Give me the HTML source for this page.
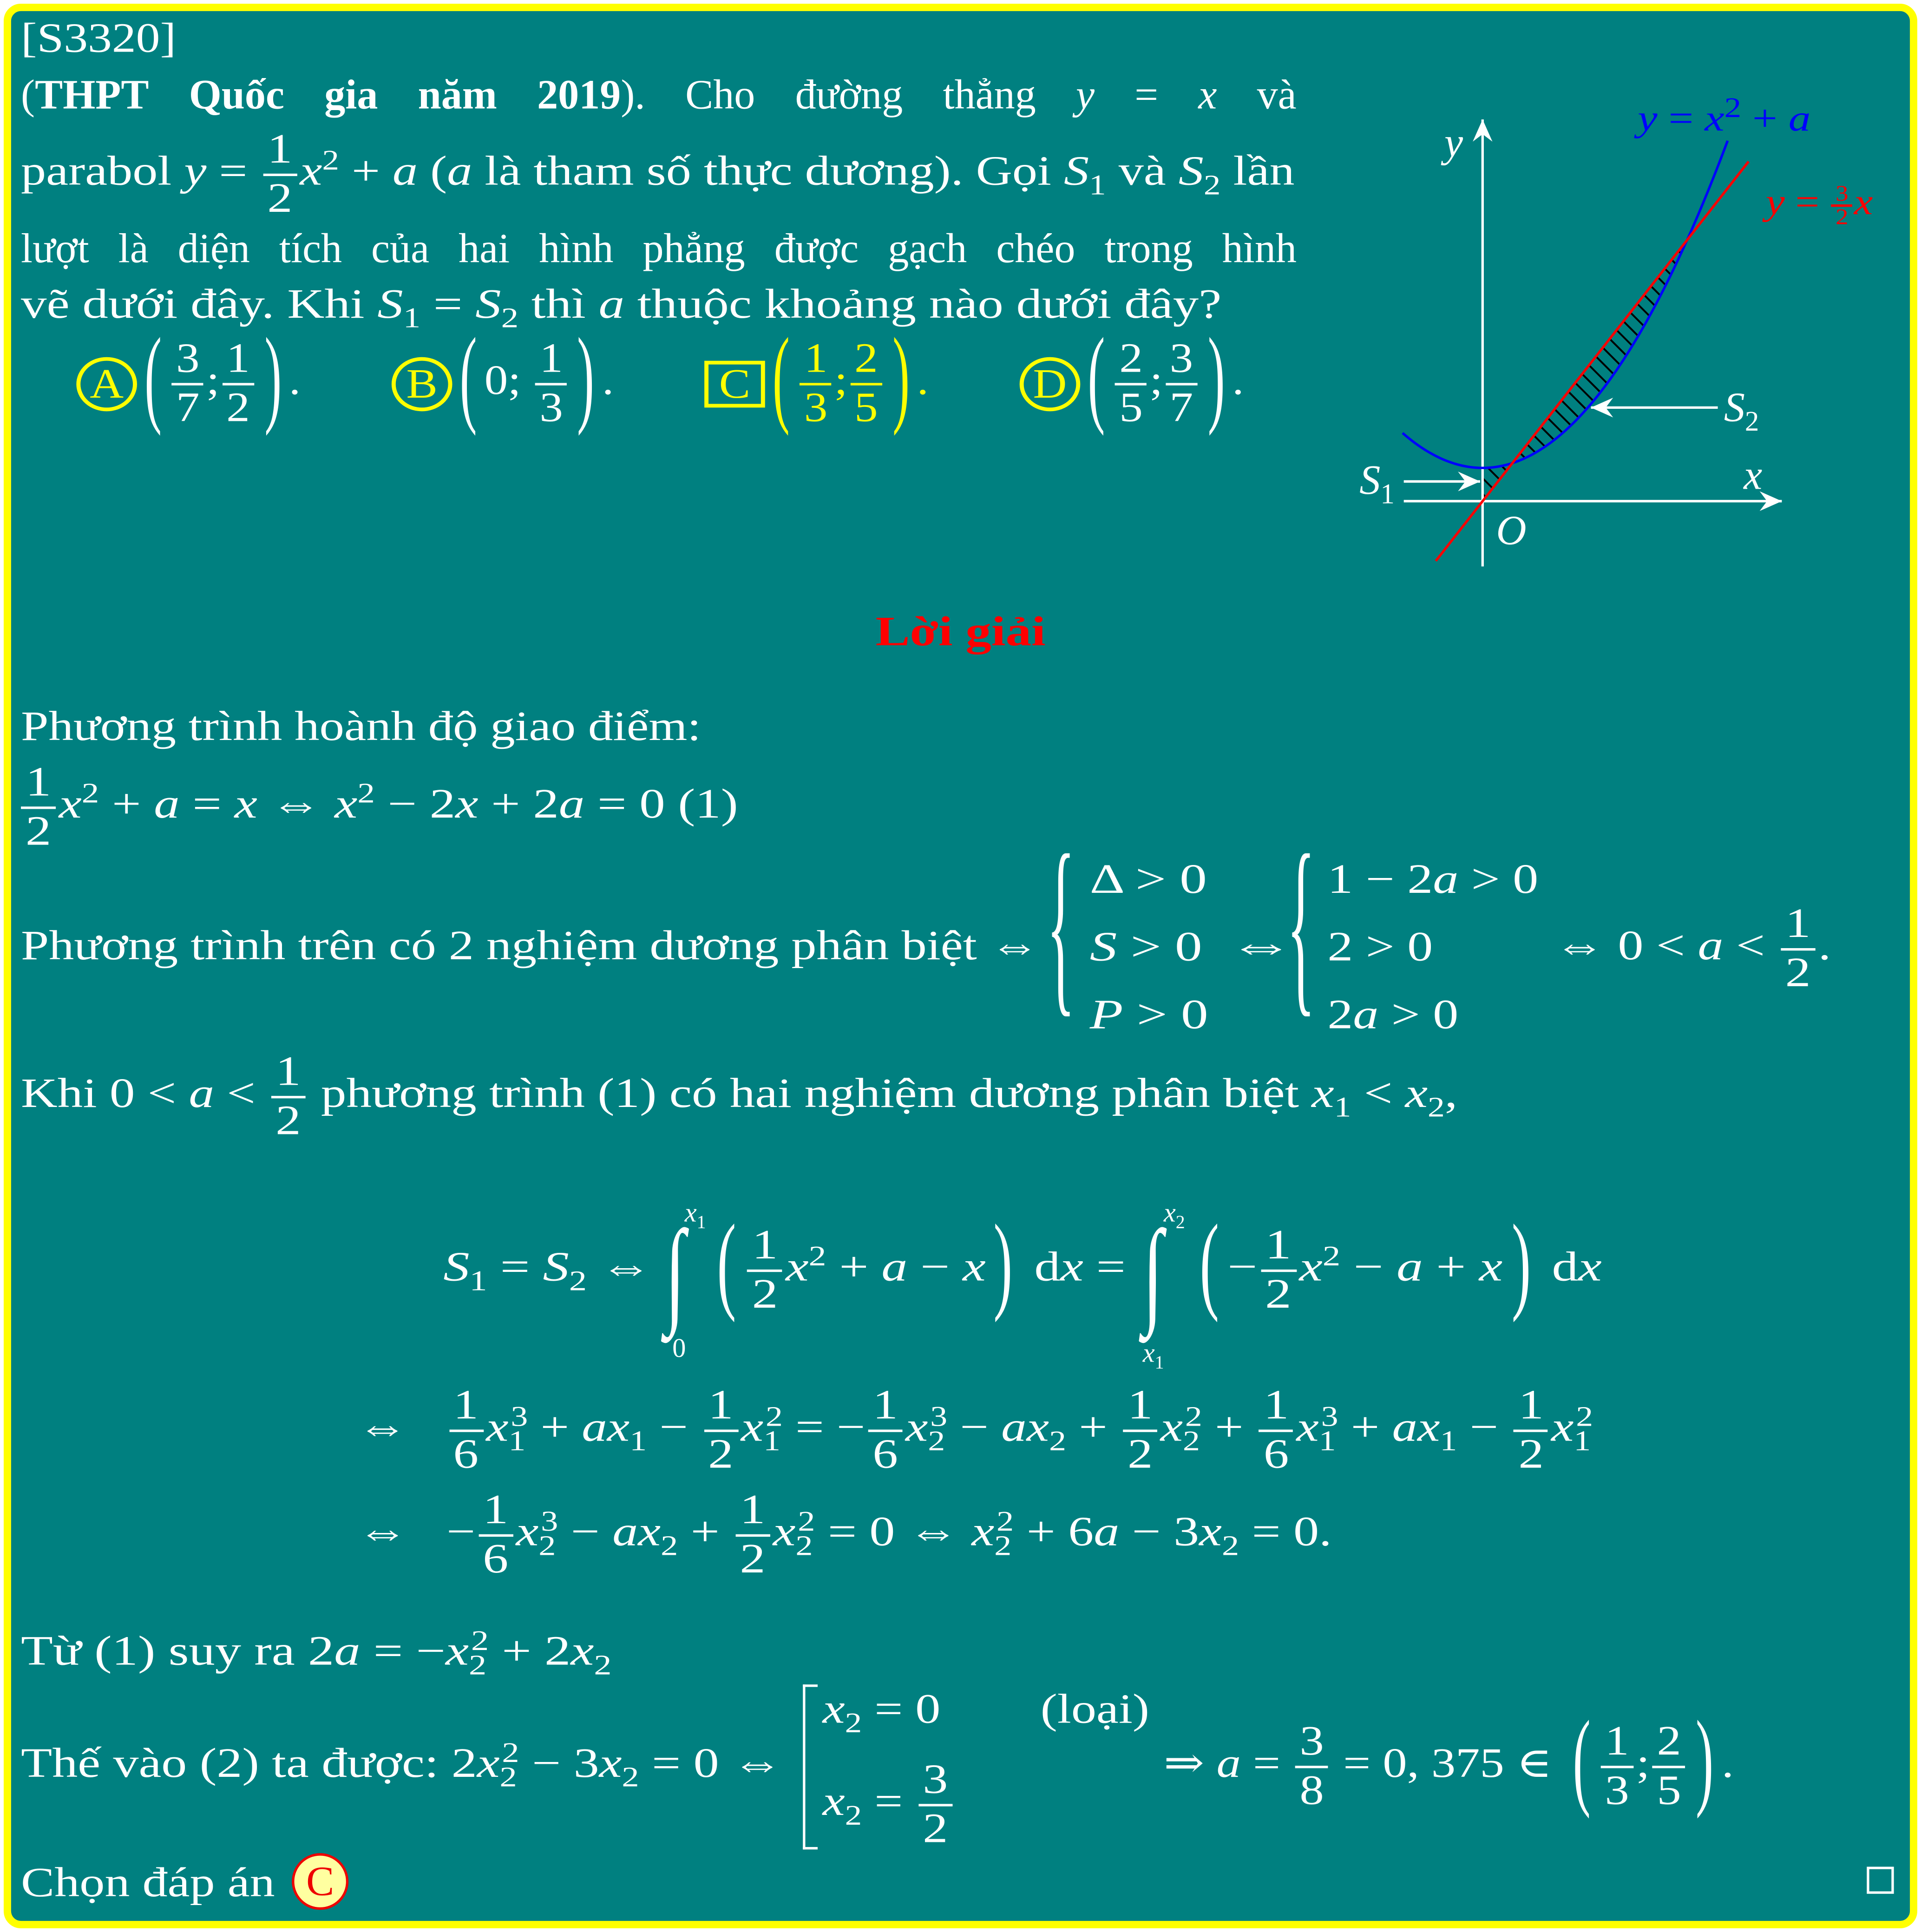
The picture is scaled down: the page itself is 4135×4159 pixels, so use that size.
<!DOCTYPE html>
<html><head><meta charset="utf-8">
<style>
html,body{margin:0;padding:0;background:#fff;}
#root{width:4135px;height:4159px;overflow:hidden;position:relative;background:#fff;}
#s{position:absolute;left:0;top:0;width:1560px;height:1569px;transform:scale(2.6506,2.6507);transform-origin:0 0;}
#card{position:absolute;left:3px;top:3px;width:1542px;height:1551px;background:#008080;border:6px solid #ffff00;border-radius:14px;}
.t{position:absolute;color:#fff;font-family:"Liberation Serif","DejaVu Serif",serif;font-size:34px;line-height:34px;white-space:nowrap;transform-origin:0 0;}
.sx{transform:scaleX(1.21);}
i{font-style:italic;}
sub,sup{font-size:23px;line-height:0;}
.fr{display:inline-flex;flex-direction:column;vertical-align:middle;text-align:center;line-height:38px;margin:-22px 2px;}
.fr>span:first-child{border-bottom:2px solid currentColor;padding:0 3px;}
.bp{display:inline-block;font-size:34px;transform:scale(1.1,2.6);vertical-align:middle;margin:0 6px;position:relative;top:-3px;}
.cir{display:inline-block;width:44px;height:44px;border:3px solid #ff0;border-radius:50%;color:#ff0;text-align:center;line-height:40px;box-sizing:border-box;font-size:34px;vertical-align:middle;margin:-6px 0;}
.y{color:#ff0;}
</style></head><body>
<div id="root">
<div id="s">
<div id="card"></div>

<div class="t sx" style="left:17px;top:15px;transform:scaleX(1.15)">[S3320]</div>
<div class="t" style="left:17px;top:61px;width:1036px;display:flex;justify-content:space-between"><span>(<b>THPT</b></span><span><b>Quốc</b></span><span><b>gia</b></span><span><b>năm</b></span><span><b>2019</b>).</span><span>Cho</span><span>đường</span><span>thẳng</span><span><i>y</i></span><span>=</span><span><i>x</i></span><span>và</span></div>
<div class="t" style="left:17px;top:123px;transform:scaleX(1.2)">parabol <i>y</i> = <span class="fr"><span>1</span><span>2</span></span><i>x</i><sup>2</sup> + <i>a</i> (<i>a</i> là tham số thực dương). Gọi <i>S</i><sub>1</sub> và <i>S</i><sub>2</sub> lần</div>
<div class="t" style="left:17px;top:186px;width:1036px;display:flex;justify-content:space-between"><span>lượt</span><span>là</span><span>diện</span><span>tích</span><span>của</span><span>hai</span><span>hình</span><span>phẳng</span><span>được</span><span>gạch</span><span>chéo</span><span>trong</span><span>hình</span></div>
<div class="t" style="left:17px;top:231px;transform:scaleX(1.23)">vẽ dưới đây. Khi <i>S</i><sub>1</sub> = <i>S</i><sub>2</sub> thì <i>a</i> thuộc khoảng nào dưới đây?</div>

<div class="t" style="left:62px;top:293px;transform:scaleX(1.12)"><span class="cir">A</span><span class="bp">(</span><span class="fr"><span>3</span><span>7</span></span>;<span class="fr"><span>1</span><span>2</span></span><span class="bp">)</span>.</div>
<div class="t" style="left:318px;top:293px;transform:scaleX(1.12)"><span class="cir">B</span><span class="bp">(</span>0; <span class="fr"><span>1</span><span>3</span></span><span class="bp">)</span>.</div>
<div class="t y" style="left:572px;top:293px;transform:scaleX(1.12)"><span style="display:inline-block;width:44px;height:38px;border:3px solid #ff0;text-align:center;line-height:34px;box-sizing:border-box;vertical-align:middle;margin:-4px 0">C</span><span class="bp">(</span><span class="fr"><span>1</span><span>3</span></span>;<span class="fr"><span>2</span><span>5</span></span><span class="bp">)</span>.</div>
<div class="t" style="left:828px;top:293px;transform:scaleX(1.12)"><span class="cir">D</span><span class="bp">(</span><span class="fr"><span>2</span><span>5</span></span>;<span class="fr"><span>3</span><span>7</span></span><span class="bp">)</span>.</div>

<svg style="position:absolute;left:0;top:0" width="1560" height="1569">
<defs><pattern id="h" width="9" height="9" patternUnits="userSpaceOnUse" patternTransform="rotate(-45)"><line x1="0" y1="0" x2="0" y2="9" stroke="#000" stroke-width="3"/></pattern>
<marker id="ar" markerWidth="10" markerHeight="10" refX="9" refY="5" orient="auto"><path d="M0,1 L9,5 L0,9 L3,5z" fill="#fff"/></marker></defs>
<g id="plot"></g>
</svg>
<div class="t" style="left:1173px;top:100px;font-style:italic">y</div>
<div class="t" style="left:1416px;top:370px;font-style:italic">x</div>
<div class="t" style="left:1215px;top:415px;font-style:italic">O</div>
<div class="t" style="left:1104px;top:374px"><i>S</i><sub>1</sub></div>
<div class="t" style="left:1400px;top:315px"><i>S</i><sub>2</sub></div>
<div class="t" style="left:1330px;top:80px;color:#0000ff;font-size:30px;transform:scaleX(1.2)"><i>y</i> = <i>x</i><sup>2</sup> + <i>a</i></div>
<div class="t" style="left:1434px;top:148px;color:#ff0000;font-size:30px;transform:scaleX(1.15)"><i>y</i> = <span class="fr" style="font-size:18px;line-height:17px;margin:-6px 1px"><span>3</span><span>2</span></span><i>x</i></div>

<div class="t" style="left:711px;top:497px;color:#ff0000;font-weight:bold;transform:scaleX(1.23)">Lời giải</div>
<div class="t sx" style="left:17px;top:574px;transform:scaleX(1.185)">Phương trình hoành độ giao điểm:</div>
<div class="t" style="left:17px;top:637px;transform:scaleX(1.23)"><span class="fr" style="margin-left:0"><span>1</span><span>2</span></span><i>x</i><sup>2</sup> + <i>a</i> = <i>x</i> ⇔ <i>x</i><sup>2</sup> − 2<i>x</i> + 2<i>a</i> = 0 (1)</div>
<div class="t" style="left:17px;top:752px;transform:scaleX(1.2)">Phương trình trên có 2 nghiệm dương phân biệt ⇔</div>
<div class="t" style="left:850px;top:672px;font-size:40px;line-height:40px;transform:scale(1.2,4);transform-origin:0 0">{</div>
<div class="t" style="left:885px;top:687px;line-height:55px;transform:scaleX(1.3)">Δ &gt; 0<br><i>S</i> &gt; 0<br><i>P</i> &gt; 0</div>
<div class="t" style="left:997px;top:752px;transform:scaleX(1.6)">⇔</div>
<div class="t" style="left:1045px;top:672px;font-size:40px;line-height:40px;transform:scale(1.2,4);transform-origin:0 0">{</div>
<div class="t" style="left:1078px;top:687px;line-height:55px;transform:scaleX(1.22)">1 − 2<i>a</i> &gt; 0<br>2 &gt; 0<br>2<i>a</i> &gt; 0</div>
<div class="t" style="left:1262px;top:752px;transform:scaleX(1.22)">⇔ 0 &lt; <i>a</i> &lt; <span class="fr"><span>1</span><span>2</span></span>.</div>
<div class="t" style="left:17px;top:872px;transform:scaleX(1.21)">Khi 0 &lt; <i>a</i> &lt; <span class="fr"><span>1</span><span>2</span></span> phương trình (1) có hai nghiệm dương phân biệt <i>x</i><sub>1</sub> &lt; <i>x</i><sub>2</sub>,</div>

<div class="t" style="left:360px;top:1013px;transform:scaleX(1.25)"><i>S</i><sub>1</sub> = <i>S</i><sub>2</sub> ⇔</div>
<div class="t" style="left:583px;top:1013px;transform:scaleX(1.24)"><span class="bp" style="margin-left:0">(</span><span class="fr"><span>1</span><span>2</span></span><i>x</i><sup>2</sup> + <i>a</i> − <i>x</i><span class="bp">)</span> d<i>x</i> =</div>
<div class="t" style="left:975px;top:1013px;transform:scaleX(1.26)"><span class="bp" style="margin-left:0">(</span>−<span class="fr"><span>1</span><span>2</span></span><i>x</i><sup>2</sup> − <i>a</i> + <i>x</i><span class="bp">)</span> d<i>x</i></div>
<div class="t" style="left:540px;top:985px;font-size:60px;line-height:60px;transform:scaleY(1.6);font-style:italic">∫</div>
<div class="t" style="left:928px;top:985px;font-size:60px;line-height:60px;transform:scaleY(1.6);font-style:italic">∫</div>
<div class="t" style="left:556px;top:968px;font-size:22px"><i>x</i><sub style="font-size:15px">1</sub></div>
<div class="t" style="left:546px;top:1078px;font-size:22px">0</div>
<div class="t" style="left:945px;top:968px;font-size:22px"><i>x</i><sub style="font-size:15px">2</sub></div>
<div class="t" style="left:928px;top:1082px;font-size:22px"><i>x</i><sub style="font-size:15px">1</sub></div>

<div class="t" style="left:290px;top:1143px;transform:scaleX(1.21)">⇔ &nbsp;&nbsp;<span class="fr"><span>1</span><span>6</span></span><i>x</i><sub>1</sub><sup style="margin-left:-10px">3</sup> + <i>ax</i><sub>1</sub> − <span class="fr"><span>1</span><span>2</span></span><i>x</i><sub>1</sub><sup style="margin-left:-10px">2</sup> = −<span class="fr"><span>1</span><span>6</span></span><i>x</i><sub>2</sub><sup style="margin-left:-10px">3</sup> − <i>ax</i><sub>2</sub> + <span class="fr"><span>1</span><span>2</span></span><i>x</i><sub>2</sub><sup style="margin-left:-10px">2</sup> + <span class="fr"><span>1</span><span>6</span></span><i>x</i><sub>1</sub><sup style="margin-left:-10px">3</sup> + <i>ax</i><sub>1</sub> − <span class="fr"><span>1</span><span>2</span></span><i>x</i><sub>1</sub><sup style="margin-left:-10px">2</sup></div>
<div class="t" style="left:290px;top:1228px;transform:scaleX(1.22)">⇔ &nbsp;&nbsp;−<span class="fr"><span>1</span><span>6</span></span><i>x</i><sub>2</sub><sup style="margin-left:-10px">3</sup> − <i>ax</i><sub>2</sub> + <span class="fr"><span>1</span><span>2</span></span><i>x</i><sub>2</sub><sup style="margin-left:-10px">2</sup> = 0 ⇔ <i>x</i><sub>2</sub><sup style="margin-left:-10px">2</sup> + 6<i>a</i> − 3<i>x</i><sub>2</sub> = 0.</div>

<div class="t" style="left:17px;top:1325px;transform:scaleX(1.25)">Từ (1) suy ra 2<i>a</i> = −<i>x</i><sub>2</sub><sup style="margin-left:-10px">2</sup> + 2<i>x</i><sub>2</sub></div>
<div class="t" style="left:17px;top:1416px;transform:scaleX(1.22)">Thế vào (2) ta được: 2<i>x</i><sub>2</sub><sup style="margin-left:-10px">2</sup> − 3<i>x</i><sub>2</sub> = 0 ⇔</div>
<div style="position:absolute;left:652px;top:1368px;width:10px;height:130px;border:2px solid #fff;border-right:none"></div>
<div class="t" style="left:668px;top:1372px;transform:scaleX(1.2)"><i>x</i><sub>2</sub> = 0</div>
<div class="t" style="left:845px;top:1372px;transform:scaleX(1.2)">(loại)</div>
<div class="t" style="left:668px;top:1447px;transform:scaleX(1.2)"><i>x</i><sub>2</sub> = <span class="fr"><span>3</span><span>2</span></span></div>
<div class="t" style="left:945px;top:1416px;transform:scaleX(1.16)">⇒ <i>a</i> = <span class="fr"><span>3</span><span>8</span></span> = 0, 375 ∈ <span class="bp">(</span><span class="fr"><span>1</span><span>3</span></span>;<span class="fr"><span>2</span><span>5</span></span><span class="bp">)</span>.</div>
<div class="t" style="left:17px;top:1513px;transform:scaleX(1.2)">Chọn đáp án</div>
<div class="t" style="left:237px;top:1505px;width:46px;height:46px;border:2px solid #e00;border-radius:50%;background:#ffffa0;color:#e00;text-align:center;line-height:44px;box-sizing:border-box">C</div>
<div style="position:absolute;left:1516px;top:1516px;width:22px;height:22px;border:2px solid #fff;box-sizing:border-box"></div>
</div>
</div>
<script>
// curve parameters (pixel-based model of y = c x^2 + a0 and y = k x in graph units)
var ox=1204, oy=407;
var parabolaCoef=[0.00671, 27];
var lineSlope=[1.277];
var xRangeParabola=[-65,199];
var xRangeLine=[-38,216];
var intersections=[0,24,166];
var g=document.getElementById('plot');
var NS='http://www.w3.org/2000/svg';
function P(x){return parabolaCoef[0]*x*x+parabolaCoef[1];}
function L(x){return lineSlope[0]*x;}
function sx(x){return ox+x;} function sy(y){return oy-y;}
function mk(t,a,name){var e=document.createElementNS(NS,t);for(var k in a)e.setAttribute(k,a[k]);


g.appendChild(e);return e;}
function region(x0,x1){var d='';for(var x=x0;x<=x1;x+=1)d+=(d?'L':'M')+sx(x)+','+sy(P(x));for(var x=x1;x>=x0;x-=1)d+='L'+sx(x)+','+sy(L(x));return d+'Z';}
mk('path',{d:region(intersections[0],intersections[1]),fill:'url(#h)'},'s1-hatch');
mk('path',{d:region(intersections[1],intersections[2]),fill:'url(#h)'},'s2-hatch');
mk('line',{x1:1140,y1:oy,x2:1447,y2:oy,stroke:'#fff','stroke-width':2,'marker-end':'url(#ar)'},'x-axis');
mk('line',{x1:ox,y1:460,x2:ox,y2:97,stroke:'#fff','stroke-width':2,'marker-end':'url(#ar)'},'y-axis');
var d='';for(var x=xRangeParabola[0];x<=xRangeParabola[1];x+=2)d+=(d?'L':'M')+sx(x)+','+sy(P(x));
mk('path',{d:d,fill:'none',stroke:'#0000ff','stroke-width':2},'parabola');
mk('line',{x1:sx(xRangeLine[0]),y1:sy(L(xRangeLine[0])),x2:sx(xRangeLine[1]),y2:sy(L(xRangeLine[1])),stroke:'#ff0000','stroke-width':2},'line-y-kx');
mk('line',{x1:1140,y1:391,x2:1202,y2:391,stroke:'#fff','stroke-width':2,'marker-end':'url(#ar)'},'s1-arrow');
mk('line',{x1:1395,y1:331,x2:1292,y2:331,stroke:'#fff','stroke-width':2,'marker-end':'url(#ar)'},'s2-arrow');
</script>
</body></html>
